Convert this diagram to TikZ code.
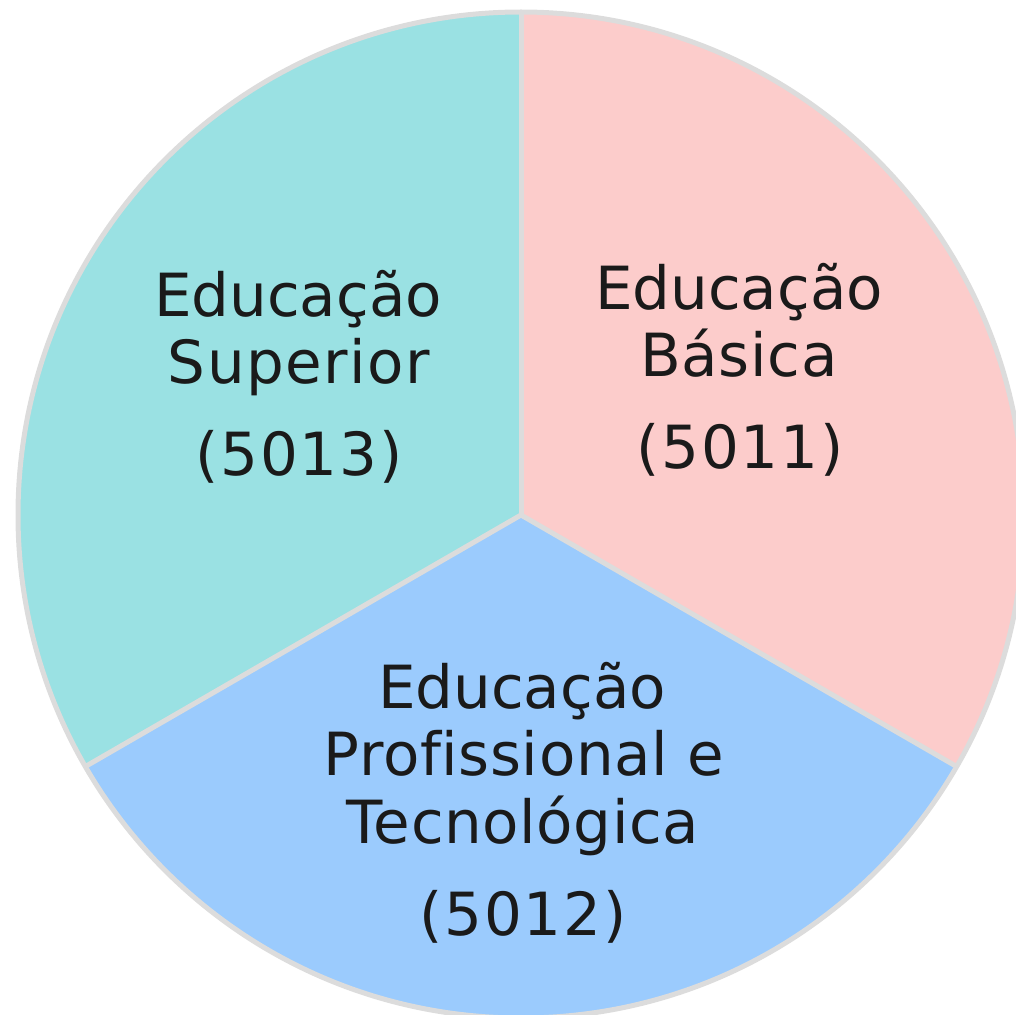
\documentclass[tikz,border=0pt]{standalone}
\usepackage{fontspec}
\setmainfont{DejaVu Sans}[Ligatures=NoCommon]
\definecolor{pinkfill}{HTML}{FCCCCB}
\definecolor{tealfill}{HTML}{9AE1E3}
\definecolor{bluefill}{HTML}{9BCBFD}
\definecolor{edgegray}{HTML}{DCDCDC}
\definecolor{txt}{HTML}{1A1A1A}
\begin{document}
\begin{tikzpicture}[x=1pt,y=-1pt,
  sector/.style={draw=edgegray,line width=5pt,line join=round},
  lbl/.style={anchor=base,inner sep=0pt,text=txt,font=\fontsize{59.5}{67}\selectfont},
  wide/.style={lbl,font=\fontsize{59.5}{67}\selectfont\addfontfeature{LetterSpace=#1}}]
\useasboundingbox (0,0) rectangle (1016,1014);
\coordinate (c) at (521,515);
\def\R{503}
% sectors (y axis points down, so angles are mirrored)
\fill[pinkfill] (c) -- ++(-90:\R) arc[start angle=-90,end angle=30,radius=\R] -- cycle;
\fill[bluefill] (c) -- ++(30:\R) arc[start angle=30,end angle=150,radius=\R] -- cycle;
\fill[tealfill] (c) -- ++(150:\R) arc[start angle=150,end angle=270,radius=\R] -- cycle;
\draw[sector] (c) circle[radius=\R];
\draw[sector] (c) -- ++(-90:\R);
\draw[sector] (c) -- ++(30:\R);
\draw[sector] (c) -- ++(150:\R);
% labels
\node[lbl] (s1) at (298,316) {Educação};
\node[wide=2.5] (s2) at (299,383) {Superior};
\node[wide=3] (s3) at (299,475) {(5013)};
\node[lbl] (b1) at (739,309) {Educação};
\node[wide=1] (b2) at (739,376) {Básica};
\node[wide=3] (b3) at (740,468) {(5011)};
\node[lbl] (p1) at (522,708) {Educação};
\node[wide=1] (p2) at (524,775) {Profissional e};
\node[wide=1] (p3) at (523,843) {Tecnológica};
\node[wide=3] (p4) at (523,935) {(5012)};
\end{tikzpicture}
\end{document}
